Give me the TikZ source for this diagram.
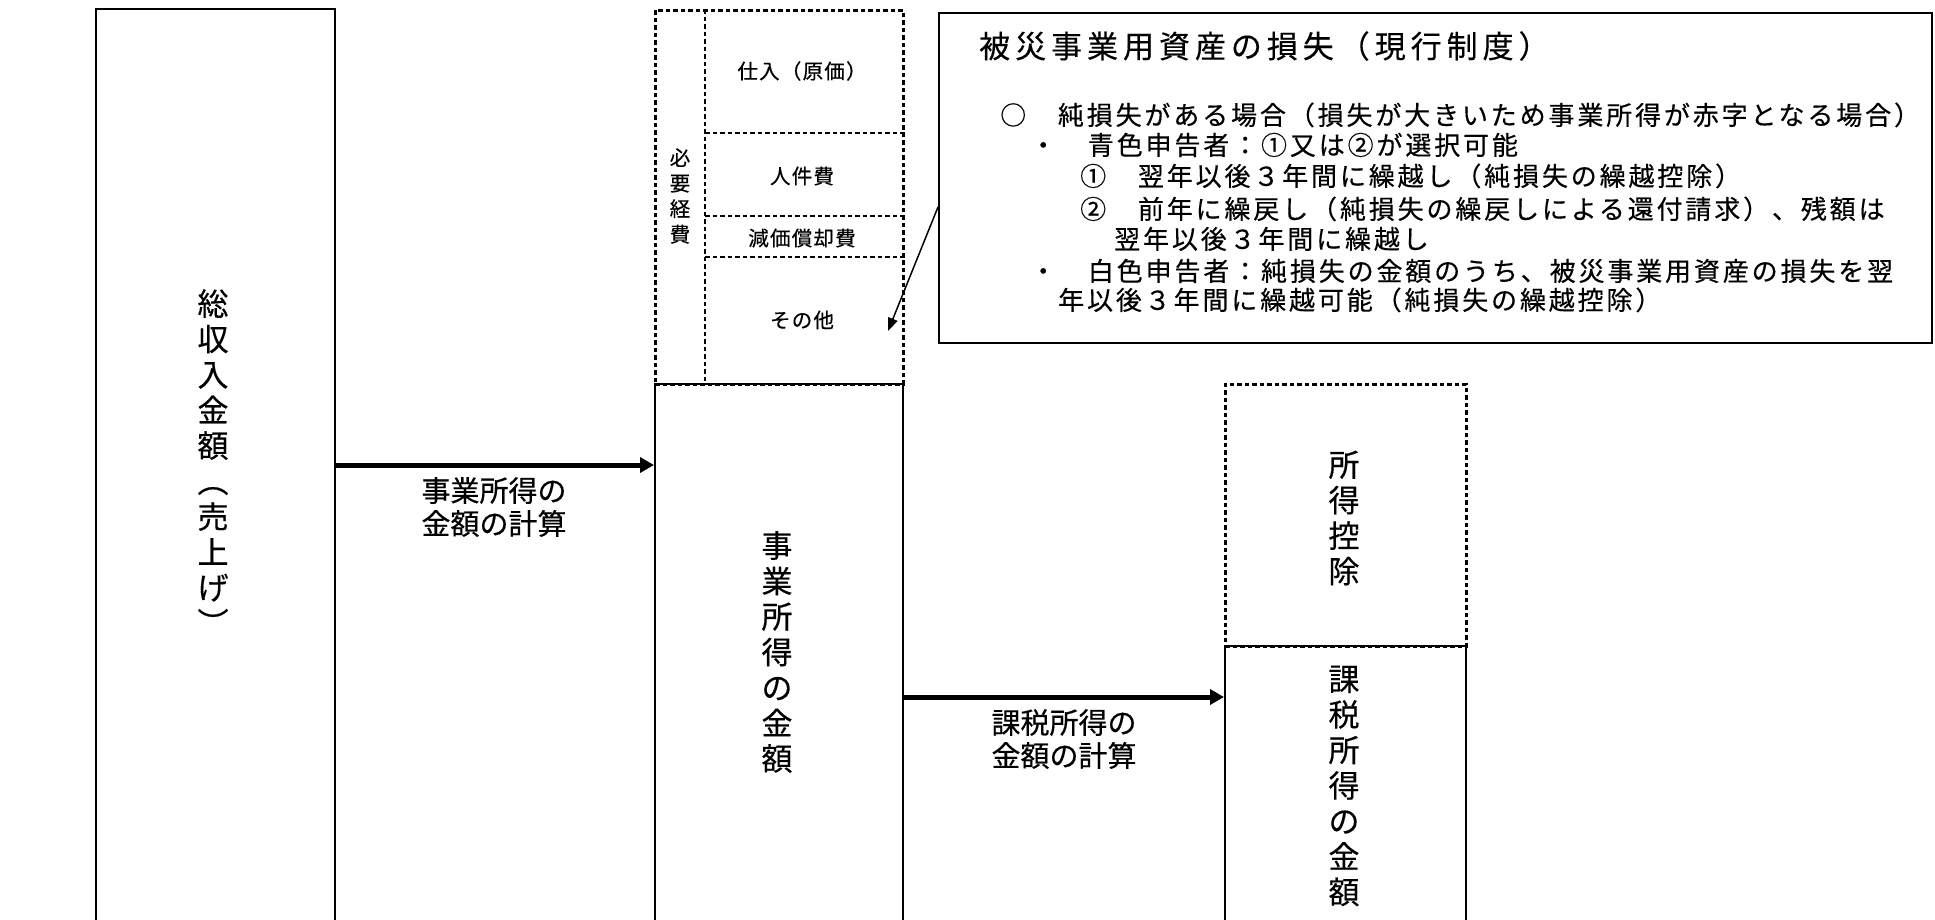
\documentclass[tikz,border=0pt]{standalone}
\usepackage{fontspec}
\setmainfont{Noto Sans CJK JP}
\newfontfamily\jp[FakeBold=0.4]{Noto Sans CJK JP}
\newfontfamily\jpls[LetterSpace=11,FakeBold=0.4]{Noto Sans CJK JP}
\newfontfamily\jpsm[LetterSpace=6,FakeBold=0.4]{Noto Sans CJK JP}
\newfontfamily\jptitle[LetterSpace=16,FakeBold=0.3]{Noto Sans CJK JP}
\usetikzlibrary{arrows.meta}
\begin{document}
\begin{tikzpicture}[x=1pt,y=-1pt,
  box/.style={draw, line width=2.2pt, inner sep=0pt, anchor=north west},
  dbox/.style={box, line width=2.6pt, dash pattern=on 4.5pt off 3pt},
  dline/.style={line width=2.6pt, dash pattern=on 4.5pt off 3pt},
  bigarrow/.style={line width=5pt, -{Triangle[length=14pt,width=15pt]}},
  thinarrow/.style={line width=1.5pt, -{Triangle[length=13pt,width=10pt]}},
  vt/.style={align=center, inner sep=0pt, font=\jp\fontsize{31}{35.5}\selectfont},
  vtsmall/.style={align=center, inner sep=0pt, font=\jp\fontsize{20.5}{25.5}\selectfont},
  lbl/.style={align=center, inner sep=0pt, font=\jp\fontsize{29}{33}\selectfont},
  small/.style={inner sep=0pt, font=\jpsm\fontsize{20.5}{22}\selectfont},
  body/.style={anchor=west, inner sep=0pt, font=\jpls\fontsize{26}{30}\selectfont, text height=0.88em, text depth=0.12em},
]
\useasboundingbox (0,0) rectangle (1935,919);
\clip (0,0) rectangle (1935,919);

% boxes
\node[box, minimum width=239pt, minimum height=960pt] (sales) at (95,8) {};
\node[dbox, minimum width=248pt, minimum height=374pt] (exp) at (654,9) {};
\draw[dline] (exp.north west) ++(51,0) -- ++(0,374);
\draw[dline] (705,133) -- (exp.east |- 0,133);
\draw[dline] (705,216) -- (exp.east |- 0,216);
\draw[dline] (705,257) -- (exp.east |- 0,257);
\node[box, minimum width=248pt, minimum height=600pt] (income) at (654,383) {};
\node[dbox, minimum width=241pt, minimum height=262pt] (deduct) at (1224,383) {};
\node[box, minimum width=241pt, minimum height=400pt] (taxable) at (1224,645) {};
\node[box, minimum width=993pt, minimum height=330pt] (note) at (938,12) {};

% arrows
\coordinate (y1) at (0,465);
\coordinate (y2) at (0,697);
\coordinate (y3) at (0,207);
\coordinate (tip) at (888,331);
\draw[bigarrow] (sales.east |- y1) -- (income.west |- y1);
\draw[bigarrow] (income.east |- y2) -- (deduct.west |- y2);
\draw[thinarrow] (note.west |- y3) -- (tip);

% vertical texts
\node[vt] (tsales) at (213,462) {総\\収\\入\\金\\額\\︵\\売\\上\\げ\\︶};
\node[vt] (tincome) at (777,652) {事\\業\\所\\得\\の\\金\\額};
\node[vt] (tded) at (1344,518) {所\\得\\控\\除};
\node[vt] (ttax) at (1344,786) {課\\税\\所\\得\\の\\金\\額};
\node[vtsmall] (thit) at (680,196) {必\\要\\経\\費};

% expense items
\node[small] (t1) at (802,71) {仕入（原価）};
\node[small] (t2) at (802,176) {人件費};
\node[small] (t3) at (802,238) {減価償却費};
\node[small] (t4) at (802,320) {その他};

% arrow labels
\node[lbl] (l1) at (494,507) {事業所得の\\金額の計算};
\node[lbl] (l2) at (1064,739) {課税所得の\\金額の計算};

% callout text
\node[anchor=west, inner sep=0pt, font=\jptitle\fontsize{31}{34}\selectfont, text height=0.88em, text depth=0.12em] (title) at (979,54) {被災事業用資産の損失（現行制度）};
\node[body] (b1) at (1000,121) {○　純損失がある場合（損失が大きいため事業所得が赤字となる場合）};
\node[body] (b2) at (1030,151) {・　青色申告者：①又は②が選択可能};
\node[body] (b3) at (1080,182) {①　翌年以後３年間に繰越し（純損失の繰越控除）};
\node[body] (b4) at (1080,215) {②　前年に繰戻し（純損失の繰戻しによる還付請求）、残額は};
\node[body] (b5) at (1114,245) {翌年以後３年間に繰越し};
\node[body] (b6) at (1030,277) {・　白色申告者：純損失の金額のうち、被災事業用資産の損失を翌};
\node[body] (b7) at (1058,306) {年以後３年間に繰越可能（純損失の繰越控除）};
\end{tikzpicture}
\end{document}
